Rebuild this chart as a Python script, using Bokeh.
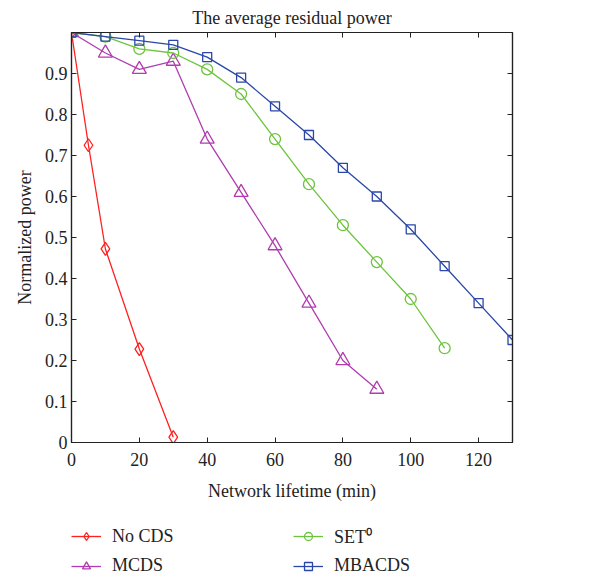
from bokeh.plotting import figure
from bokeh.models import LinearAxis, Legend, LegendItem, FixedTicker, Range1d
from bokeh.layouts import column
from bokeh.embed import file_html
from bokeh.resources import INLINE

# Data
x_nocds = [0, 5, 10, 20, 30]
y_nocds = [1.0, 0.725, 0.472, 0.228, 0.013]
x_mcds = [0, 10, 20, 30, 40, 50, 60, 70, 80, 90]
y_mcds = [1.0, 0.95, 0.91, 0.93, 0.74, 0.61, 0.48, 0.34, 0.20, 0.13]
x_set = [0, 10, 20, 30, 40, 50, 60, 70, 80, 90, 100, 110]
y_set = [1.0, 0.99, 0.96, 0.95, 0.91, 0.85, 0.74, 0.63, 0.53, 0.44, 0.35, 0.23]
x_mba = [0, 10, 20, 30, 40, 50, 60, 70, 80, 90, 100, 110, 120, 130]
y_mba = [1.0, 0.99, 0.98, 0.97, 0.94, 0.89, 0.82, 0.75, 0.67, 0.60, 0.52, 0.43, 0.34, 0.25]
x_ticks = [0, 20, 40, 60, 80, 100, 120]
y_ticks = [0, 0.1, 0.2, 0.3, 0.4, 0.5, 0.6, 0.7, 0.8, 0.9]
series_names = ["No CDS", "MCDS", "SET\u2070", "MBACDS"]

FONT = "Liberation Serif"
RED = "#ff2020"
PURPLE = "#b03cb0"
GREEN = "#6cc43c"
BLUE = "#2a47a8"

p = figure(frame_width=441, frame_height=410, output_backend="svg", toolbar_location=None,
           x_range=Range1d(0, 130), y_range=Range1d(0, 1.0),
           title="The average residual power",
           min_border_left=71, min_border_right=88, min_border_top=0, min_border_bottom=68)
p.title.align = "center"
p.title.text_font = FONT
p.title.text_font_size = "18px"
p.title.text_font_style = "normal"
p.title.text_color = "#222222"
p.grid.visible = False
p.outline_line_color = "#222222"
p.outline_line_width = 1.2

def style_axis(ax, labels=True):
    ax.major_tick_in = 5
    ax.major_tick_out = 0
    ax.minor_tick_line_color = None
    ax.axis_line_color = "#222222"
    ax.axis_line_width = 1.2
    ax.major_tick_line_color = "#222222"
    ax.major_label_text_font = FONT
    ax.major_label_text_font_size = "18px"
    ax.major_label_text_color = "#222222"
    ax.axis_label_text_font = FONT
    ax.axis_label_text_font_size = "18px"
    ax.axis_label_text_font_style = "normal"
    ax.axis_label_text_color = "#222222"
    if not labels:
        ax.major_label_overrides = {t: "" for t in ax.ticker.ticks}
        ax.major_label_standoff = 0

p.xaxis.ticker = FixedTicker(ticks=x_ticks)
p.yaxis.ticker = FixedTicker(ticks=y_ticks)
p.xaxis.axis_label = "Network lifetime (min)"
p.yaxis.axis_label = "Normalized power"
style_axis(p.xaxis[0])
style_axis(p.yaxis[0])
p.xaxis.major_label_standoff = 10
p.xaxis.axis_label_standoff = 12
p.yaxis.major_label_standoff = 4
p.yaxis.axis_label_standoff = 7

top = LinearAxis(ticker=FixedTicker(ticks=x_ticks))
style_axis(top, labels=False)
p.add_layout(top, "above")
right = LinearAxis(ticker=FixedTicker(ticks=y_ticks))
style_axis(right, labels=False)
p.add_layout(right, "right")

lw = 1.3
styles = [
    dict(color=RED, marker="diamond", size=13),
    dict(color=PURPLE, marker="triangle", size=14),
    dict(color=GREEN, marker="circle", size=11),
    dict(color=BLUE, marker="square", size=9),
]
data = [(x_nocds, y_nocds), (x_mcds, y_mcds), (x_set, y_set), (x_mba, y_mba)]
for (xs, ys), st in zip(data, styles):
    p.line(xs, ys, line_color=st["color"], line_width=lw)
    p.scatter(xs, ys, marker=st["marker"], size=st["size"], fill_color=None,
              line_color=st["color"], line_width=lw)

# Legend panel (separate figure below the chart; its ranges keep the series out of view)
q = figure(width=600, height=66, output_backend="svg", toolbar_location=None,
           x_range=Range1d(1000, 1001), y_range=Range1d(1000, 1001),
           min_border_left=0, min_border_right=0, min_border_top=0, min_border_bottom=0)
q.axis.visible = False
q.grid.visible = False
q.outline_line_color = None
items = []
for name, (xs, ys), st in zip(series_names, data, styles):
    rl = q.line(xs, ys, line_color=st["color"], line_width=lw)
    rm = q.scatter(xs, ys, marker=st["marker"], size=st["size"], fill_color=None,
                   line_color=st["color"], line_width=lw)
    items.append(LegendItem(label=name, renderers=[rl, rm]))
order = [0, 2, 1, 3]
legend = Legend(items=[items[i] for i in order], ncols=2, orientation="horizontal")
legend.location = (0, 0)
legend.border_line_color = None
legend.background_fill_alpha = 0
legend.label_text_font = FONT
legend.label_text_font_size = "18px"
legend.label_text_color = "#222222"
legend.glyph_width = 30
legend.glyph_height = 20
legend.label_height = 20
legend.label_width = 174
legend.label_standoff = 11
legend.spacing = 7
legend.padding = 0
legend.margin = 0
q.add_layout(legend)

layout = column(p, q, spacing=0)
open("out.html", "w").write(file_html(layout, INLINE))
